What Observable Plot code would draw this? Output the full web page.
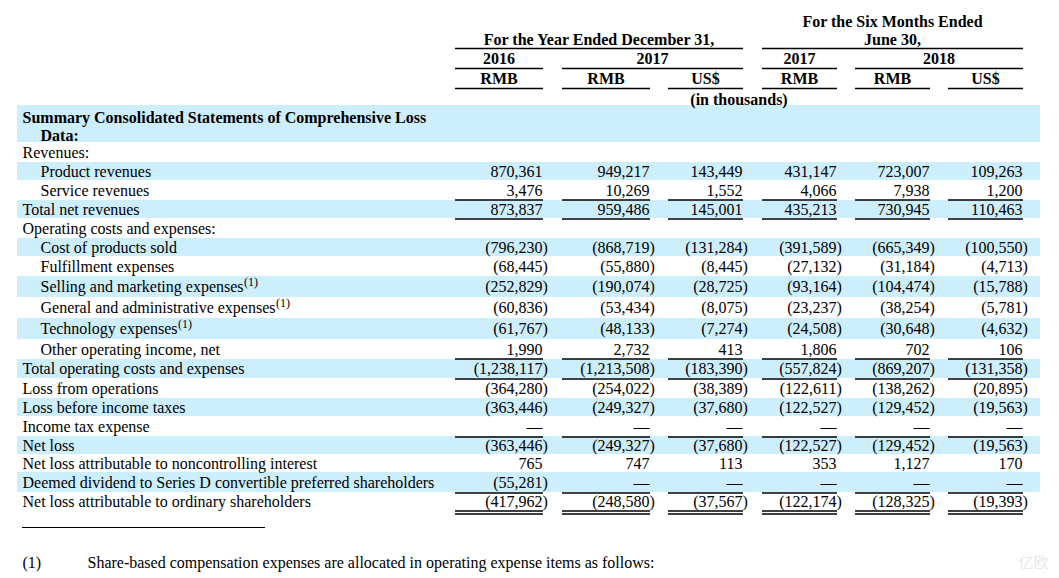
<!DOCTYPE html>
<html>
<head>
<meta charset="utf-8">
<script src="https://cdn.jsdelivr.net/npm/d3@7"></script>
<script src="https://cdn.jsdelivr.net/npm/@observablehq/plot@0.6"></script>
<style>
  html, body { margin: 0; padding: 0; background: #fff; }
  #chart svg { display: block; }
</style>
</head>
<body>
<div id="chart"></div>
<script>
// ---------------- DATA ----------------
const periodHeaders = ["For the Year Ended December 31,", "For the Six Months Ended\nJune 30,"];
const yearHeaders = ["2016", "2017", "2017", "2018"];
const currencyHeaders = ["RMB", "RMB", "US$", "RMB", "RMB", "US$"];
const unitNote = "(in thousands)";

const rowLabels = [
  "Summary Consolidated Statements of Comprehensive Loss\nData:",
  "Revenues:",
  "Product revenues",
  "Service revenues",
  "Total net revenues",
  "Operating costs and expenses:",
  "Cost of products sold",
  "Fulfillment expenses",
  "Selling and marketing expenses",
  "General and administrative expenses",
  "Technology expenses",
  "Other operating income, net",
  "Total operating costs and expenses",
  "Loss from operations",
  "Loss before income taxes",
  "Income tax expense",
  "Net loss",
  "Net loss attributable to noncontrolling interest",
  "Deemed dividend to Series D convertible preferred shareholders",
  "Net loss attributable to ordinary shareholders"
];
const rowNotes = ["", "", "", "", "", "", "", "", "(1)", "(1)", "(1)", "", "", "", "", "", "", "", "", ""];

// values in thousands; null = no value, 0 = shown as dash
const rmb2016   = [null, null, 870361, 3476, 873837, null, -796230, -68445, -252829, -60836, -61767, 1990, -1238117, -364280, -363446, 0, -363446, 765, -55281, -417962];
const rmb2017   = [null, null, 949217, 10269, 959486, null, -868719, -55880, -190074, -53434, -48133, 2732, -1213508, -254022, -249327, 0, -249327, 747, 0, -248580];
const usd2017   = [null, null, 143449, 1552, 145001, null, -131284, -8445, -28725, -8075, -7274, 413, -183390, -38389, -37680, 0, -37680, 113, 0, -37567];
const rmbH12017 = [null, null, 431147, 4066, 435213, null, -391589, -27132, -93164, -23237, -24508, 1806, -557824, -122611, -122527, 0, -122527, 353, 0, -122174];
const rmbH12018 = [null, null, 723007, 7938, 730945, null, -665349, -31184, -104474, -38254, -30648, 702, -869207, -138262, -129452, 0, -129452, 1127, 0, -128325];
const usdH12018 = [null, null, 109263, 1200, 110463, null, -100550, -4713, -15788, -5781, -4632, 106, -131358, -20895, -19563, 0, -19563, 170, 0, -19393];

const footnoteMarker = "(1)";
const footnoteText = "Share-based compensation expenses are allocated in operating expense items as follows:";
const watermark = "亿欧";

// ---------------- LAYOUT / STYLE ----------------
const W = 1059, H = 578;
const series = [rmb2016, rmb2017, usd2017, rmbH12017, rmbH12018, usdH12018];
const colLeft  = [455, 562, 668, 762, 855, 948];
const colRight = [542, 649, 742, 836, 929, 1022];
const periodSpans = [[0, 2], [3, 5]];
const yearSpans = [[0, 0], [1, 2], [3, 3], [4, 5]];
const rowHeights = [37, 20, 18, 20, 18, 20, 18, 20, 21, 21, 21, 20, 19, 20, 18, 20, 18, 18, 20, 18];
const tableTop = 105;
const rowTop = [];
rowHeights.reduce((t, h, i) => (rowTop[i] = t, t + h), tableTop);
const rowMid = rowTop.map((t, i) => i === 0 ? t + 12 : t + rowHeights[i] / 2);
const bandRows = rowLabels.map((_, i) => i).filter(i => i % 2 === 0);
const indented = new Set([2, 3, 6, 7, 8, 9, 10, 11]);
const ruleSpecs = [
  {row: 4, edge: "top"}, {row: 4, edge: "bottom"},
  {row: 12, edge: "top"}, {row: 12, edge: "bottom"},
  {row: 15, edge: "bottom"}, {row: 18, edge: "bottom"},
  {row: 19, edge: "bottom"}, {row: 19, edge: "bottom", offset: 3}
];
const FONT = "'Liberation Serif', 'Times New Roman', serif";
const FS = 16;
const BLUE = "#cdeefd";

// measure label widths for superscripts
const ctx = document.createElement("canvas").getContext("2d");
ctx.font = `${FS}px 'Liberation Serif'`;

const labelX0 = 22, labelXIndent = 40;
const labelLines = [];
rowLabels.forEach((lab, i) => {
  lab.split("\n").forEach((line, k) => {
    labelLines.push({
      text: line,
      x: (indented.has(i) || k > 0) ? labelXIndent : labelX0,
      y: rowMid[i] + k * 18,
      bold: i === 0,
      row: i
    });
  });
});
const notes = labelLines.filter(d => rowNotes[d.row]).map(d => ({
  text: rowNotes[d.row],
  x: d.x + ctx.measureText(d.text).width + 0.5,
  y: d.y - 5
}));

const fmt = d3.format(",");
const cells = [];
series.forEach((vals, c) => {
  vals.forEach((v, r) => {
    if (v === null) return;
    cells.push({
      x: colRight[c], y: rowMid[r],
      text: v === 0 ? "—" : v < 0 ? "(" + fmt(-v) : fmt(v),
      close: v < 0
    });
  });
});

const rules = [];
ruleSpecs.forEach(s => {
  const base = s.edge === "top" ? rowTop[s.row] - 0.5 : rowTop[s.row] + rowHeights[s.row] + 0.5;
  colLeft.forEach((l, c) => rules.push({x1: l, x2: colRight[c] + 1, y: base + (s.offset || 0)}));
});
// header rules
periodSpans.forEach(([a, b]) => rules.push({x1: colLeft[a], x2: colRight[b] + 1, y: 48}));
yearSpans.forEach(([a, b]) => rules.push({x1: colLeft[a], x2: colRight[b] + 1, y: 68}));
colLeft.forEach((l, c) => rules.push({x1: l, x2: colRight[c] + 1, y: 88}));

const headerTexts = [];
periodHeaders.forEach((t, i) => {
  const [a, b] = periodSpans[i];
  const lines = t.split("\n");
  lines.forEach((line, k) => headerTexts.push({
    text: line, x: (colLeft[a] + colRight[b]) / 2, y: 39 - (lines.length - 1 - k) * 18
  }));
});
yearHeaders.forEach((t, i) => {
  const [a, b] = yearSpans[i];
  headerTexts.push({text: t, x: (colLeft[a] + colRight[b]) / 2, y: 58});
});
currencyHeaders.forEach((t, c) => headerTexts.push({text: t, x: (colLeft[c] + colRight[c]) / 2, y: 78}));
headerTexts.push({text: unitNote, x: (colLeft[0] + colRight[5]) / 2, y: 99});

const chart = Plot.plot({
  width: W, height: H,
  marginTop: 0, marginRight: 0, marginBottom: 0, marginLeft: 0,
  x: {type: "linear", domain: [0, W], range: [0, W], axis: null},
  y: {type: "linear", domain: [0, H], range: [0, H], axis: null},
  style: {fontFamily: FONT, fontSize: FS + "px", color: "#000", background: "#fff"},
  marks: [
    Plot.rect(bandRows, {x1: () => 17, x2: () => 1040, y1: i => rowTop[i], y2: i => rowTop[i] + rowHeights[i], fill: BLUE}),
    Plot.ruleY(rules, {x1: "x1", x2: "x2", y: "y", stroke: "#000", strokeWidth: 1.7}),
    Plot.ruleY([{x1: 22, x2: 265, y: 527}], {x1: "x1", x2: "x2", y: "y", stroke: "#000", strokeWidth: 1}),
    Plot.text(headerTexts, {x: "x", y: "y", text: "text", textAnchor: "middle", fontWeight: "bold", fontSize: FS, fontFamily: FONT, fill: "#000"}),
    Plot.text(labelLines.filter(d => !d.bold), {x: "x", y: "y", text: "text", textAnchor: "start", fontSize: FS, fontFamily: FONT, fill: "#000"}),
    Plot.text(labelLines.filter(d => d.bold), {x: "x", y: "y", text: "text", textAnchor: "start", fontWeight: "bold", fontSize: FS, fontFamily: FONT, fill: "#000"}),
    Plot.text(notes, {x: "x", y: "y", text: "text", textAnchor: "start", fontSize: 12, fontFamily: FONT, fill: "#000"}),
    Plot.text(cells, {x: "x", y: "y", text: "text", textAnchor: "end", fontSize: FS, fontFamily: FONT, fill: "#000"}),
    Plot.text(cells.filter(d => d.close), {x: "x", y: "y", text: () => ")", textAnchor: "start", fontSize: FS, fontFamily: FONT, fill: "#000"}),
    Plot.text([{x: 22, y: 562, text: footnoteMarker}, {x: 87, y: 562, text: footnoteText}], {x: "x", y: "y", text: "text", textAnchor: "start", fontSize: FS, fontFamily: FONT, fill: "#000"}),
    Plot.text([{x: 1033, y: 563, text: watermark}], {x: "x", y: "y", text: "text", textAnchor: "middle", fontSize: 15, fontFamily: "'Noto Sans CJK SC'", fill: "#e8e8e8"})
  ]
});
document.getElementById("chart").appendChild(chart);
</script>
</body>
</html>
